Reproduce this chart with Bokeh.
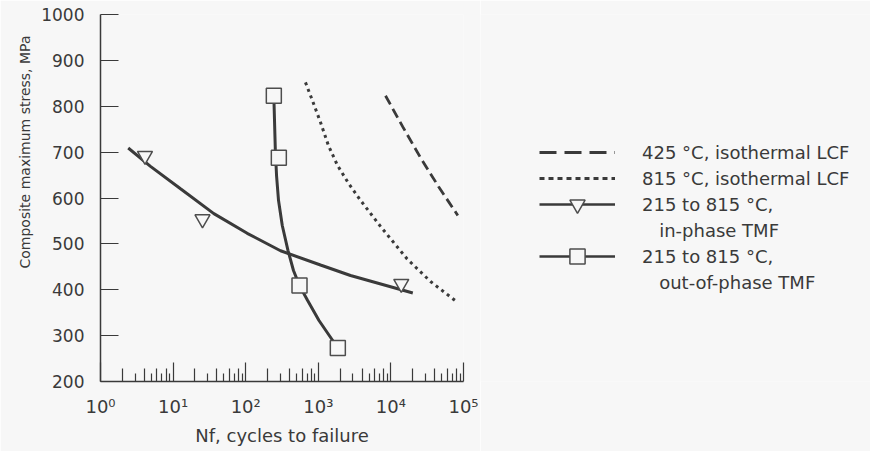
from bokeh.plotting import figure
from bokeh.layouts import row
from bokeh.models import (Range1d, LogAxis, FixedTicker, Legend, LegendItem, Title,
                          CustomJSTickFormatter)
from bokeh.embed import file_html
from bokeh.resources import INLINE

# ---------------- data ----------------
# 425 C isothermal LCF (dashed)
lcf425_n = [8430, 14590, 25560, 45680, 83470]
lcf425_s = [823, 755, 688, 624, 562]
# 815 C isothermal LCF (dotted)
lcf815_n = [666, 832, 1072, 1382, 1839, 2606, 3814, 7191, 16765, 35120, 83470]
lcf815_s = [852, 812, 765, 714, 671, 632, 595, 538, 467, 418, 372]
# 215 to 815 C in-phase TMF: test points and fitted curve
inphase_n = [4.1, 25.4, 13900]
inphase_s = [692, 554, 413]
inphase_fit_n = [2.41, 4.88, 12.65, 36.4, 104.9, 301.6, 1072, 2777, 20030]
inphase_fit_s = [709, 669, 620, 566, 523, 485, 454, 431, 393]
# 215 to 815 C out-of-phase TMF: test points and fitted curve
outphase_n = [244, 286, 551, 1858]
outphase_s = [823, 688, 409, 273]
outphase_fit_n = [244, 256, 266, 283, 319, 382, 455, 551, 710, 1022, 1858]
outphase_fit_s = [823, 704, 649, 595, 540, 486, 442, 409, 377, 333, 273]

# axes
x_major_ticks = [1, 10, 100, 1000, 10000, 100000]
x_tick_labels = ["10\u2070", "10\u00b9", "10\u00b2", "10\u00b3", "10\u2074", "10\u2075"]
x_minor_even = [m * d for d in [1, 10, 100, 1000, 10000] for m in (2, 4, 6, 8)]
x_minor_odd = [m * d for d in [1, 10, 100, 1000, 10000] for m in (3, 5, 7, 9)]
y_ticks = [200, 300, 400, 500, 600, 700, 800, 900, 1000]
y_title = "Composite maximum stress, MPa"
x_title = "Nf, cycles to failure"

legend_labels = ["425 \u00b0C, isothermal LCF", "815 \u00b0C, isothermal LCF",
                 "215 to 815 \u00b0C,", "\u00a0\u00a0\u00a0in-phase TMF",
                 "215 to 815 \u00b0C,", "\u00a0\u00a0\u00a0out-of-phase TMF"]

BG = "#f7f7f7"
INK = "#3a3a3a"
MARK = "#4d4d4d"
FONT = "DejaVu Sans"

p = figure(width=480, height=451, x_axis_type="log",
           x_range=Range1d(1, 1e5), y_range=Range1d(200, 1000),
           output_backend="svg", toolbar_location=None,
           min_border_left=100, min_border_right=17, min_border_top=14, min_border_bottom=70,
           background_fill_color=BG, border_fill_color=BG, outline_line_color=None)
p.grid.visible = False

# ---- x axis ----
xa = p.xaxis[0]
xa.ticker = FixedTicker(ticks=x_major_ticks, minor_ticks=x_minor_even)
xa.major_label_overrides = dict(zip(x_major_ticks, x_tick_labels))
xa.major_tick_in = 19
xa.major_tick_out = 0
xa.minor_tick_in = 13
xa.minor_tick_out = 0
xa.axis_line_color = INK
xa.axis_line_width = 1.5
xa.major_tick_line_color = INK
xa.minor_tick_line_color = INK
xa.major_tick_line_width = 1.2
xa.minor_tick_line_width = 1.2
xa.major_label_standoff = 14
xa.major_label_text_font = FONT
xa.major_label_text_font_size = "18px"
xa.major_label_text_color = INK
xa.axis_label = x_title
xa.axis_label_text_font = FONT
xa.axis_label_text_font_size = "18px"
xa.axis_label_text_font_style = "normal"
xa.axis_label_text_color = INK
xa.axis_label_standoff = 5

# short odd minor ticks drawn with a second, label-less axis placed on the x axis line
xodd = LogAxis(ticker=FixedTicker(ticks=x_minor_odd), fixed_location=200,
               major_tick_in=8, major_tick_out=0, major_tick_line_color=INK,
               major_tick_line_width=1.2, minor_tick_line_color=None,
               axis_line_color=None,
               formatter=CustomJSTickFormatter(code="return ''"))
p.add_layout(xodd, "below")

# ---- y axis ----
ya = p.yaxis[0]
ya.ticker = FixedTicker(ticks=y_ticks)
ya.major_tick_in = 18
ya.major_tick_out = 0
ya.minor_tick_line_color = None
ya.axis_line_color = INK
ya.axis_line_width = 1.5
ya.major_tick_line_color = INK
ya.major_tick_line_width = 1.2
ya.major_label_standoff = 16
ya.major_label_text_font = FONT
ya.major_label_text_font_size = "17px"
ya.major_label_text_color = INK

# y title, placed higher than the frame centre as in the reference
p.add_layout(Title(text=y_title, align="left", offset=113, standoff=11,
                   text_font=FONT, text_font_size="14px", text_font_style="normal",
                   text_color=INK), "left")

# ---- data glyphs ----
p.line(lcf425_n, lcf425_s, line_color=INK, line_width=2.8, line_dash="10 5")
p.line(lcf815_n, lcf815_s, line_color=INK, line_width=3, line_dash="3 4")
p.line(inphase_fit_n, inphase_fit_s, line_color=INK, line_width=3)
p.line(outphase_fit_n, outphase_fit_s, line_color=INK, line_width=3)
p.scatter(inphase_n, inphase_s, marker="inverted_triangle", size=15,
          fill_color=BG, line_color=MARK, line_width=1.5)
p.scatter(outphase_n, outphase_s, marker="square", size=15,
          fill_color=BG, line_color=MARK, line_width=1.5)

# ---- legend panel (its own canvas, so nothing is clipped) ----
# hidden copies of the series supply the legend swatches
q = figure(width=390, height=451, output_backend="svg", toolbar_location=None,
           x_axis_type=None, y_axis_type=None,
           x_range=Range1d(0, 1), y_range=Range1d(0, 1),
           min_border_left=0, min_border_right=0, min_border_top=0, min_border_bottom=0,
           background_fill_color=BG, border_fill_color=BG, outline_line_color=None)
q.grid.visible = False
k425 = q.line(lcf425_n, lcf425_s, line_color=INK, line_width=2.8, line_dash="17 8",
              visible=False)
k815 = q.line(lcf815_n, lcf815_s, line_color=INK, line_width=2.8, line_dash="5 4",
              visible=False)
k_in_line = q.line(inphase_fit_n, inphase_fit_s, line_color=INK, line_width=2.5,
                   visible=False)
k_in_pts = q.scatter(inphase_n, inphase_s, marker="inverted_triangle", fill_color=BG,
                     line_color=MARK, line_width=1.5, visible=False)
k_out_line = q.line(outphase_fit_n, outphase_fit_s, line_color=INK, line_width=2.5,
                    visible=False)
k_out_pts = q.scatter(outphase_n, outphase_s, marker="square", fill_color=BG,
                      line_color=MARK, line_width=1.5, visible=False)
k_blank = q.line(inphase_n, inphase_s, line_alpha=0, visible=False)

legend_style = dict(orientation="vertical", background_fill_alpha=0,
                    border_line_color=None, padding=0, margin=0, glyph_width=76,
                    label_standoff=27, inactive_fill_alpha=0, label_text_font=FONT,
                    label_text_font_size="18px", label_text_color=INK)

# text rows and line swatches
legend = Legend(items=[
    LegendItem(label=legend_labels[0], renderers=[k425]),
    LegendItem(label=legend_labels[1], renderers=[k815]),
    LegendItem(label=legend_labels[2], renderers=[k_in_line]),
    LegendItem(label=legend_labels[3], renderers=[k_blank]),
    LegendItem(label=legend_labels[4], renderers=[k_out_line]),
    LegendItem(label=legend_labels[5], renderers=[k_blank]),
], location=(59, 86), spacing=0, glyph_height=26, label_height=26, **legend_style)
q.add_layout(legend)

# full-size marker swatches on rows 3 and 5 (a taller glyph box gives bigger markers)
marker_legend = Legend(items=[
    LegendItem(label="\u00a0", renderers=[k_in_pts]),
    LegendItem(label="\u00a0", renderers=[k_out_pts]),
], location=(59, 106), spacing=14, glyph_height=38, label_height=38, **legend_style)
q.add_layout(marker_legend)

layout = row(p, q)
open("out.html", "w").write(file_html(layout, INLINE))
